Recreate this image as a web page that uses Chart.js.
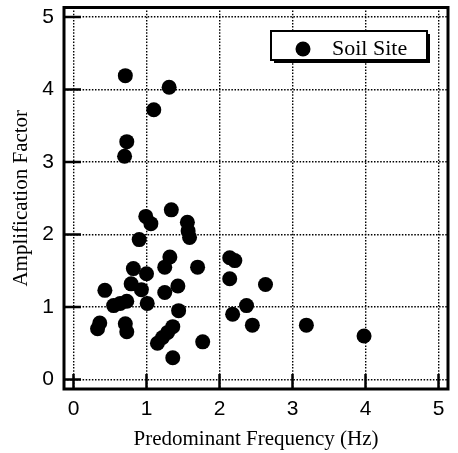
<!DOCTYPE html>
<html>
<head>
<meta charset="utf-8">
<script src="https://cdn.jsdelivr.net/npm/chart.js@4/dist/chart.umd.min.js"></script>
<style>
  html, body { margin: 0; padding: 0; background: #fff; }
  #wrap { width: 458px; height: 453px; }
</style>
</head>
<body>
<div id="wrap"><canvas id="c" width="458" height="453"></canvas></div>
<script>
// ---- data ----
const seriesLabel = "Soil Site";
const freqHz = [0.71, 1.31, 1.10, 0.73, 0.70, 0.99, 1.06, 1.34, 1.56, 1.57, 1.59, 0.90,
                1.32, 1.25, 1.70, 0.82, 1.00, 0.79, 0.93, 0.43, 1.43, 1.25, 0.55, 0.64,
                0.73, 1.01, 1.44, 0.36, 0.33, 0.71, 0.73, 1.36, 1.29, 1.22, 1.15, 1.36,
                1.77, 2.14, 2.21, 2.14, 2.63, 2.37, 2.18, 2.45, 3.19, 3.98];
const ampFactor = [4.19, 4.03, 3.72, 3.28, 3.08, 2.25, 2.15, 2.34, 2.17, 2.05, 1.96, 1.93,
                   1.69, 1.55, 1.55, 1.53, 1.46, 1.32, 1.24, 1.23, 1.29, 1.20, 1.02, 1.05,
                   1.08, 1.05, 0.95, 0.78, 0.70, 0.77, 0.66, 0.73, 0.65, 0.58, 0.50, 0.30,
                   0.52, 1.68, 1.64, 1.39, 1.31, 1.02, 0.90, 0.75, 0.75, 0.60];
const xTickValues = [0, 1, 2, 3, 4, 5];
const yTickValues = [0, 1, 2, 3, 4, 5];
const xTitle = "Predominant Frequency (Hz)";
const yTitle = "Amplification Factor";

const points = freqHz.map((f, i) => ({ x: f, y: ampFactor[i] }));

const framePlugin = {
  id: 'frame',
  afterDatasetsDraw(chart) {
    const { ctx, chartArea: a, scales } = chart;
    ctx.save();
    ctx.strokeStyle = '#000';
    // frame
    ctx.lineWidth = 3;
    ctx.strokeRect(a.left, a.top, a.right - a.left, a.bottom - a.top);
    // inner tick marks
    ctx.lineWidth = 2.5;
    ctx.beginPath();
    yTickValues.forEach(v => {
      const y = scales.y.getPixelForValue(v);
      ctx.moveTo(a.left, y);
      ctx.lineTo(a.left + 17, y);
    });
    xTickValues.forEach(v => {
      const x = scales.x.getPixelForValue(v);
      ctx.moveTo(x, a.bottom);
      ctx.lineTo(x, a.bottom - 15);
    });
    ctx.stroke();

    // legend box
    const bx = 271, by = 31, bw = 156, bh = 29;
    ctx.fillStyle = '#fff';
    ctx.fillRect(bx, by, bw, bh);
    ctx.fillStyle = '#000';
    ctx.fillRect(bx + 3, by + bh, bw, 3);
    ctx.fillRect(bx + bw, by + 3, 3, bh);
    ctx.lineWidth = 2;
    ctx.strokeRect(bx, by, bw, bh);
    const ds = chart.data.datasets[0];
    ctx.beginPath();
    ctx.arc(bx + 32, by + 18, ds.pointRadius, 0, Math.PI * 2);
    ctx.fill();
    ctx.font = '22px "Liberation Serif", "Times New Roman", serif';
    ctx.textBaseline = 'alphabetic';
    ctx.textAlign = 'left';
    ctx.fillText(ds.label, bx + 61, by + 24);
    ctx.restore();
  }
};

new Chart(document.getElementById('c'), {
  type: 'scatter',
  data: {
    datasets: [{
      label: seriesLabel,
      data: points,
      backgroundColor: '#000',
      borderWidth: 0,
      pointRadius: 7.5,
      pointHoverRadius: 7.5
    }]
  },
  options: {
    responsive: false,
    animation: false,
    events: [],
    layout: { padding: { top: 5, right: 10, left: 0, bottom: 0 } },
    plugins: { legend: { display: false }, tooltip: { enabled: false } },
    scales: {
      x: {
        type: 'linear',
        min: -0.13, max: 5.13,
        afterFit(s) { s.height = 64; s.paddingLeft = 0; s.paddingRight = 0; },
        afterBuildTicks(s) { s.ticks = xTickValues.map(v => ({ value: v })); },
        ticks: {
          includeBounds: false,
          padding: 8,
          color: '#000',
          font: { family: '"Liberation Sans", Arial, sans-serif', size: 21 },
          callback: v => String(v)
        },
        grid: { color: '#000', lineWidth: 1.4, drawTicks: false },
        border: { display: false, dash: [1.5, 1.6] },
        title: {
          display: true, text: xTitle, color: '#000',
          font: { family: '"Liberation Serif", "Times New Roman", serif', size: 21 },
          padding: { top: 0, bottom: 1 }
        }
      },
      y: {
        type: 'linear',
        min: -0.13, max: 5.13,
        afterFit(s) { s.width = 64; s.paddingTop = 0; s.paddingBottom = 0; },
        afterBuildTicks(s) { s.ticks = yTickValues.map(v => ({ value: v })); },
        ticks: {
          includeBounds: false,
          padding: 10,
          color: '#000',
          font: { family: '"Liberation Sans", Arial, sans-serif', size: 21 },
          callback: v => String(v)
        },
        grid: { color: '#000', lineWidth: 1.4, drawTicks: false },
        border: { display: false, dash: [1.5, 1.6] },
        title: {
          display: true, text: yTitle, color: '#000',
          font: { family: '"Liberation Serif", "Times New Roman", serif', size: 21 },
          padding: { top: 9, bottom: 0 }
        }
      }
    }
  },
  plugins: [framePlugin]
});
</script>
</body>
</html>
